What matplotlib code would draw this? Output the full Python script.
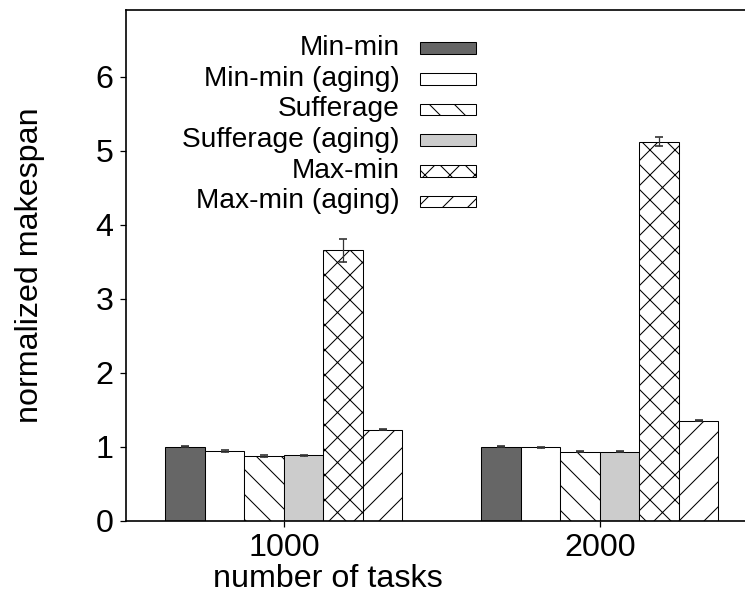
import matplotlib
matplotlib.use("Agg")
import matplotlib.pyplot as plt
from matplotlib.patches import Rectangle
import numpy as np

# makespan normalised to Min-min, per number of tasks
tasks = ["1000", "2000"]
heuristics = ["Min-min", "Min-min (aging)", "Sufferage", "Sufferage (aging)",
              "Max-min", "Max-min (aging)"]
makespan = [
    [1.00, 1.00],   # Min-min
    [0.94, 0.99],   # Min-min (aging)
    [0.87, 0.93],   # Sufferage
    [0.88, 0.93],   # Sufferage (aging)
    [3.65, 5.12],   # Max-min
    [1.23, 1.35],   # Max-min (aging)
]
err = [
    [0.01, 0.01],
    [0.01, 0.01],
    [0.01, 0.01],
    [0.01, 0.01],
    [0.16, 0.06],
    [0.01, 0.01],
]

faces = ["#666666", "white", "white", "#cccccc", "white", "white"]
hatches = ["", "", "\\\\", "", "xx", "//"]

DPI = 150
plt.rcParams['font.family'] = ['Liberation Sans', 'DejaVu Sans']
plt.rcParams['hatch.linewidth'] = 0.5
plt.rcParams['hatch.color'] = 'black'

fig = plt.figure(figsize=(745 / DPI, 597 / DPI), dpi=DPI)
ax = fig.add_axes([0.1691, 0.1281, 0.8483, 0.8551])

x = np.arange(len(tasks))
w = 0.125
for i, name in enumerate(heuristics):
    pos = x + (i - 2.5) * w
    ax.bar(pos, makespan[i], w, color=faces[i], edgecolor='black',
           linewidth=0.5, hatch=hatches[i], zorder=2)
    ax.errorbar(pos, makespan[i], yerr=err[i], fmt='none', ecolor='#333333',
                elinewidth=0.6, capsize=2, capthick=0.8, zorder=3)

ax.set_xlim(-0.5, 1.5)
ax.set_ylim(0, 6.9)
ax.set_xticks(x)
ax.set_xticklabels(tasks)
ax.set_yticks(range(7))
ax.tick_params(labelsize=15.5, length=3, width=0.6, direction='out')
ax.tick_params(axis='x', pad=3)
ax.tick_params(axis='y', pad=3)
ax.set_xlabel('number of tasks', fontsize=15.5, labelpad=0)
ax.xaxis.set_label_coords(0.32, -0.085)
ax.set_ylabel('normalized makespan', fontsize=15.5)
ax.yaxis.set_label_coords(-0.128, 0.5)
for s in ax.spines.values():
    s.set_linewidth(0.8)

# key: labels right-aligned, sample boxes to their right
y0, dy = 0.9256, 0.0601
for i, name in enumerate(heuristics):
    yy = y0 - i * dy
    ax.text(0.4335, yy, name, transform=ax.transAxes, ha='right',
            va='center', fontsize=13.5)
    ax.add_patch(Rectangle((0.465, yy - 0.0115), 0.089, 0.023,
                           transform=ax.transAxes, facecolor=faces[i],
                           edgecolor='black', linewidth=0.5,
                           hatch=hatches[i], zorder=4))

fig.savefig('out.png', dpi=DPI)
